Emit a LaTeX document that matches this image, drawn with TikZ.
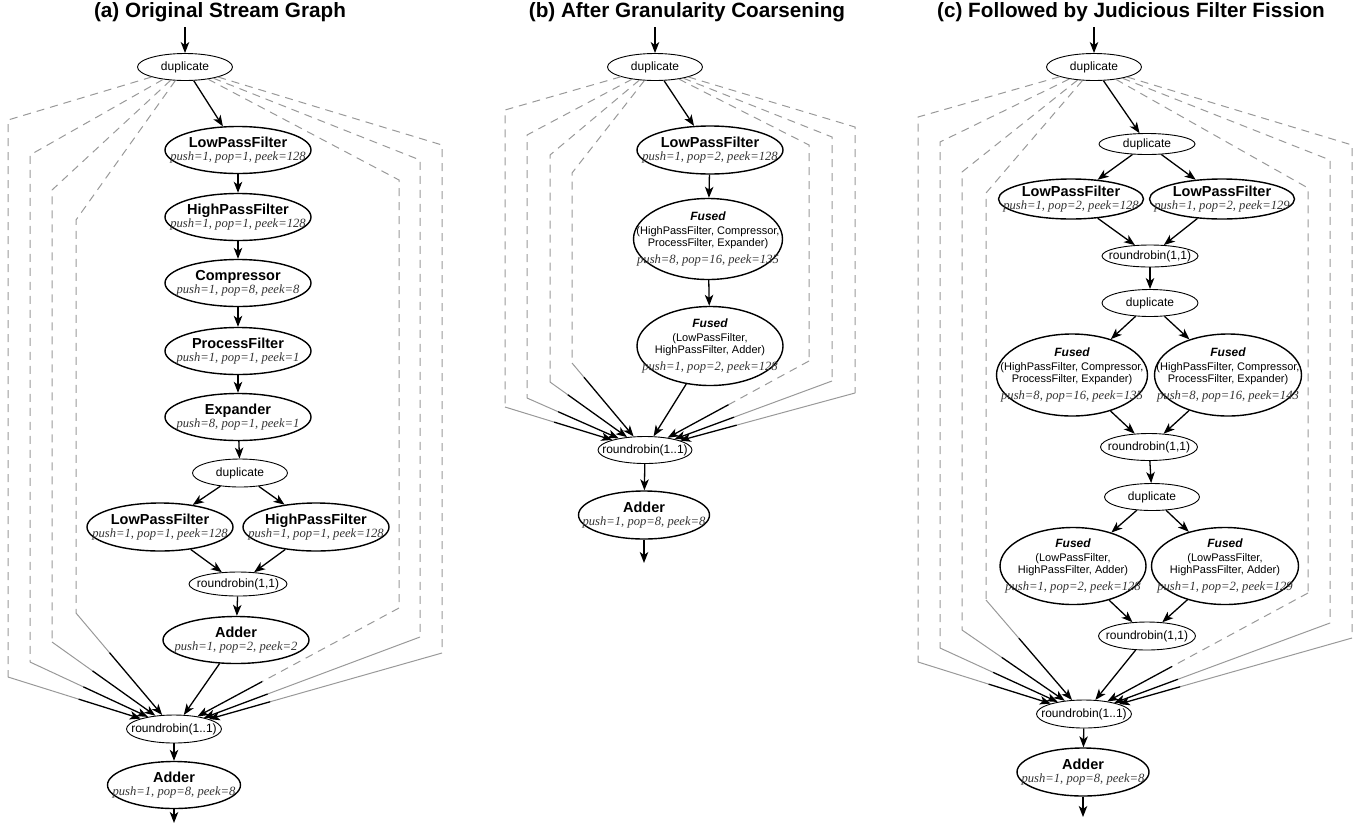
\documentclass[tikz,border=0pt]{standalone}
\usepackage{fontspec}
\newfontfamily\helv{Liberation Sans}
\newfontfamily\ratefont{Liberation Serif}
\usetikzlibrary{shapes.geometric, arrows.meta, calc}

\definecolor{rateGray}{rgb}{0.2,0.2,0.2}
\definecolor{bypassGray}{rgb}{0.6,0.6,0.6}

% Textbausteine der Knoten
\newcommand{\sgName}[1]{{\helv\bfseries\fontsize{14.5}{16}\selectfont #1}}
\newcommand{\sgRate}[1]{{\ratefont\itshape\fontsize{12.6}{13}\selectfont\color{rateGray}#1}}
\newcommand{\sgFused}{{\helv\bfseries\itshape\fontsize{12}{13}\selectfont Fused}}
\newcommand{\sgPart}[1]{{\helv\fontsize{11}{12}\selectfont #1}}

\begin{document}
\begin{tikzpicture}[
    x=1pt, y=-1pt,
    >={Stealth[length=11pt, width=8.5pt, inset=3pt]}, % Pfeilspitzen
    % --- Knoten-Stile ---
    filt/.style 2 args={ellipse, draw, line width=1.4pt, fill=white, inner sep=0pt, minimum width=#1, minimum height=#2},
    split/.style 2 args={ellipse, draw, line width=0.9pt, fill=white, inner sep=0pt, minimum width=#1, minimum height=#2},
    lbl/.style={inner sep=0pt, align=center, font=\fontsize{12}{13}\selectfont},
    splitlbl/.style={inner sep=0pt, font=\helv\fontsize{12}{14}\selectfont},
    title/.style={anchor=base, inner sep=0pt, font=\helv\bfseries\fontsize{20.7}{24}\selectfont},
    % --- Linienstile ---
    edge_style/.style={->, line width=1.3pt},
    bypass/.style={draw=bypassGray, line width=1pt, dash pattern=on 8pt off 6pt},
    bypass_solid/.style={draw=bypassGray, line width=1pt}
]
    \useasboundingbox (0,0) rectangle (1359,828);

    % ===========================
    % 1. UEBERSCHRIFTEN
    % ===========================
    \node[title] (tA) at (220,17)  {(a) Original Stream Graph};
    \node[title] (tB) at (687,17)  {(b) After Granularity Coarsening};
    \node[title] (tC) at (1131,17) {(c) Followed by Judicious Filter Fission};

    % ===========================
    % 2. GRAPH (a)
    % ===========================
    \node[split={95pt}{27pt}, label={[splitlbl]center:duplicate}] (dA) at (185,67) {};
    \node[filt={146pt}{47pt}, label={[lbl]center:{\sgName{LowPassFilter}\\\sgRate{push=1, pop=1, peek=128}}}]  (lpA) at (238,150) {};
    \node[filt={146pt}{47pt}, label={[lbl]center:{\sgName{HighPassFilter}\\\sgRate{push=1, pop=1, peek=128}}}] (hpA) at (238,217) {};
    \node[filt={146pt}{47pt}, label={[lbl]center:{\sgName{Compressor}\\\sgRate{push=1, pop=8, peek=8}}}]       (cmA) at (238,283) {};
    \node[filt={146pt}{47pt}, label={[lbl]center:{\sgName{ProcessFilter}\\\sgRate{push=1, pop=1, peek=1}}}]    (pfA) at (238,351) {};
    \node[filt={146pt}{47pt}, label={[lbl]center:{\sgName{Expander}\\\sgRate{push=8, pop=1, peek=1}}}]         (exA) at (238,417) {};
    \node[split={95pt}{28pt}, label={[splitlbl]center:duplicate}] (d2A) at (240,473) {};
    \node[filt={146pt}{48pt}, label={[lbl]center:{\sgName{LowPassFilter}\\\sgRate{push=1, pop=1, peek=128}}}]  (lp2A) at (160,527) {};
    \node[filt={146pt}{48pt}, label={[lbl]center:{\sgName{HighPassFilter}\\\sgRate{push=1, pop=1, peek=128}}}] (hp2A) at (316,527) {};
    \node[split={98pt}{24pt}, label={[splitlbl]center:roundrobin(1,1)}] (rr2A) at (238,584) {};
    \node[filt={146pt}{47pt}, label={[lbl]center:{\sgName{Adder}\\\sgRate{push=1, pop=2, peek=2}}}]            (adA) at (236,640) {};
    \node[split={95pt}{28pt}, label={[splitlbl]center:roundrobin(1..1)}] (rrA) at (174,729) {};
    \node[filt={133pt}{47pt}, label={[lbl]center:{\sgName{Adder}\\\sgRate{push=1, pop=8, peek=8}}}]            (outA) at (174,785) {};
    \coordinate (inA) at (185,27);
    \coordinate (endA) at (174,823);

    \draw[edge_style] (inA) -- (dA);
    \draw[edge_style] (dA) -- (lpA);
    \draw[edge_style] (lpA) -- (hpA);
    \draw[edge_style] (hpA) -- (cmA);
    \draw[edge_style] (cmA) -- (pfA);
    \draw[edge_style] (pfA) -- (exA);
    \draw[edge_style] (exA) -- (d2A);
    \draw[edge_style] (d2A) -- (lp2A);
    \draw[edge_style] (d2A) -- (hp2A);
    \draw[edge_style] (lp2A) -- (rr2A);
    \draw[edge_style] (hp2A) -- (rr2A);
    \draw[edge_style] (rr2A) -- (adA);
    \draw[edge_style] (adA) -- (rrA);
    \draw[edge_style] (rrA) -- (outA);
    \draw[edge_style] (outA) -- (endA);

    % Umgehungspfade (duplicate -> roundrobin)
    \foreach \cx/\ty/\by/\sty in {8/120/677/bypass_solid, 30/155/662/bypass_solid, 52/190/642/bypass_solid, 76/220/613/bypass_solid, 399/180/608/bypass, 420/160/637/bypass_solid, 442/145/653/bypass_solid}{
        \draw[bypass] (dA) -- (\cx,\ty) -- (\cx,\by);
        \draw[\sty] (\cx,\by) -- ($(rrA)!100pt!(\cx,\by)$) coordinate (bpm);
        \draw[edge_style] (bpm) -- (rrA);
    }

    % ===========================
    % 3. GRAPH (b)
    % ===========================
    \node[split={95pt}{27pt}, label={[splitlbl]center:duplicate}] (dB) at (655,67) {};
    \node[filt={146pt}{48pt}, label={[lbl]center:{\sgName{LowPassFilter}\\\sgRate{push=1, pop=2, peek=128}}}] (lpB) at (710,150) {};
    \node[filt={149pt}{81pt}, label={[lbl]center:{\sgFused\\[1pt]\sgPart{(HighPassFilter, Compressor,}\\[-1pt]\sgPart{ProcessFilter, Expander)}\\[4pt]\sgRate{push=8, pop=16, peek=135}}}] (fuB1) at (708,239) {};
    \node[filt={146pt}{79pt}, label={[lbl]center:{\sgFused\\[1pt]\sgPart{(LowPassFilter,}\\[-1pt]\sgPart{HighPassFilter, Adder)}\\[4pt]\sgRate{push=1, pop=2, peek=128}}}] (fuB2) at (710,346) {};
    \node[split={94pt}{27pt}, label={[splitlbl]center:roundrobin(1..1)}] (rrB) at (645,450) {};
    \node[filt={131pt}{48pt}, label={[lbl]center:{\sgName{Adder}\\\sgRate{push=1, pop=8, peek=8}}}] (outB) at (644,515) {};
    \coordinate (inB) at (655,27);
    \coordinate (endB) at (644,563);

    \draw[edge_style] (inB) -- (dB);
    \draw[edge_style] (dB) -- (lpB);
    \draw[edge_style] (lpB) -- (fuB1);
    \draw[edge_style] (fuB1) -- (fuB2);
    \draw[edge_style] (fuB2) -- (rrB);
    \draw[edge_style] (rrB) -- (outB);
    \draw[edge_style] (outB) -- (endB);

    \foreach \cx/\ty/\by/\sty in {505/110/407/bypass_solid, 527/135/398/bypass_solid, 550/155/382/bypass_solid, 572/173/363/bypass_solid, 809/145/361/bypass, 832/137/381/bypass_solid, 855/127/393/bypass_solid}{
        \draw[bypass] (dB) -- (\cx,\ty) -- (\cx,\by);
        \draw[\sty] (\cx,\by) -- ($(rrB)!95pt!(\cx,\by)$) coordinate (bpm);
        \draw[edge_style] (bpm) -- (rrB);
    }

    % ===========================
    % 4. GRAPH (c)
    % ===========================
    \node[split={95pt}{27pt}, label={[splitlbl]center:duplicate}] (dC) at (1094,67) {};
    \node[split={96pt}{21pt}, label={[splitlbl]center:duplicate}] (d2C) at (1147,144) {};
    \node[filt={145pt}{40pt}, label={[lbl]center:{\sgName{LowPassFilter}\\\sgRate{push=1, pop=2, peek=128}}}] (lpC1) at (1071,199) {};
    \node[filt={145pt}{40pt}, label={[lbl]center:{\sgName{LowPassFilter}\\\sgRate{push=1, pop=2, peek=129}}}] (lpC2) at (1222,199) {};
    \node[split={96pt}{22pt}, label={[splitlbl]center:roundrobin(1,1)}] (rr1C) at (1150,256) {};
    \node[split={96pt}{27pt}, label={[splitlbl]center:duplicate}] (d3C) at (1150,303) {};
    \node[filt={151pt}{82pt}, label={[lbl]center:{\sgFused\\[1pt]\sgPart{(HighPassFilter, Compressor,}\\[-1pt]\sgPart{ProcessFilter, Expander)}\\[4pt]\sgRate{push=8, pop=16, peek=135}}}] (fuC1) at (1072,375) {};
    \node[filt={147pt}{82pt}, label={[lbl]center:{\sgFused\\[1pt]\sgPart{(HighPassFilter, Compressor,}\\[-1pt]\sgPart{ProcessFilter, Expander)}\\[4pt]\sgRate{push=8, pop=16, peek=143}}}] (fuC2) at (1228,375) {};
    \node[split={97pt}{27pt}, label={[splitlbl]center:roundrobin(1,1)}] (rr2C) at (1149,447) {};
    \node[split={95pt}{27pt}, label={[splitlbl]center:duplicate}] (d4C) at (1152,497) {};
    \node[filt={146pt}{77pt}, label={[lbl]center:{\sgFused\\[1pt]\sgPart{(LowPassFilter,}\\[-1pt]\sgPart{HighPassFilter, Adder)}\\[4pt]\sgRate{push=1, pop=2, peek=128}}}] (fuC3) at (1073,566) {};
    \node[filt={147pt}{77pt}, label={[lbl]center:{\sgFused\\[1pt]\sgPart{(LowPassFilter,}\\[-1pt]\sgPart{HighPassFilter, Adder)}\\[4pt]\sgRate{push=1, pop=2, peek=129}}}] (fuC4) at (1225,566) {};
    \node[split={97pt}{28pt}, label={[splitlbl]center:roundrobin(1,1)}] (rr3C) at (1147,636) {};
    \node[split={95pt}{28pt}, label={[splitlbl]center:roundrobin(1..1)}] (rrC) at (1084,714) {};
    \node[filt={132pt}{48pt}, label={[lbl]center:{\sgName{Adder}\\\sgRate{push=1, pop=8, peek=8}}}] (outC) at (1083,772) {};
    \coordinate (inC) at (1094,27);
    \coordinate (endC) at (1083,817);

    \draw[edge_style] (inC) -- (dC);
    \draw[edge_style] (dC) -- (d2C);
    \draw[edge_style] (d2C) -- (lpC1);
    \draw[edge_style] (d2C) -- (lpC2);
    \draw[edge_style] (lpC1) -- (rr1C);
    \draw[edge_style] (lpC2) -- (rr1C);
    \draw[edge_style] (rr1C) -- (d3C);
    \draw[edge_style] (d3C) -- (fuC1);
    \draw[edge_style] (d3C) -- (fuC2);
    \draw[edge_style] (fuC1) -- (rr2C);
    \draw[edge_style] (fuC2) -- (rr2C);
    \draw[edge_style] (rr2C) -- (d4C);
    \draw[edge_style] (d4C) -- (fuC3);
    \draw[edge_style] (d4C) -- (fuC4);
    \draw[edge_style] (fuC3) -- (rr3C);
    \draw[edge_style] (fuC4) -- (rr3C);
    \draw[edge_style] (rr3C) -- (rrC);
    \draw[edge_style] (rrC) -- (outC);
    \draw[edge_style] (outC) -- (endC);

    \foreach \cx/\ty/\by/\sty in {918/117/662/bypass_solid, 940/142/648/bypass_solid, 962/172/630/bypass_solid, 986/193/600/bypass_solid, 1308/188/593/bypass, 1330/160/623/bypass_solid, 1352/145/638/bypass_solid}{
        \draw[bypass] (dC) -- (\cx,\ty) -- (\cx,\by);
        \draw[\sty] (\cx,\by) -- ($(rrC)!100pt!(\cx,\by)$) coordinate (bpm);
        \draw[edge_style] (bpm) -- (rrC);
    }

\end{tikzpicture}
\end{document}
